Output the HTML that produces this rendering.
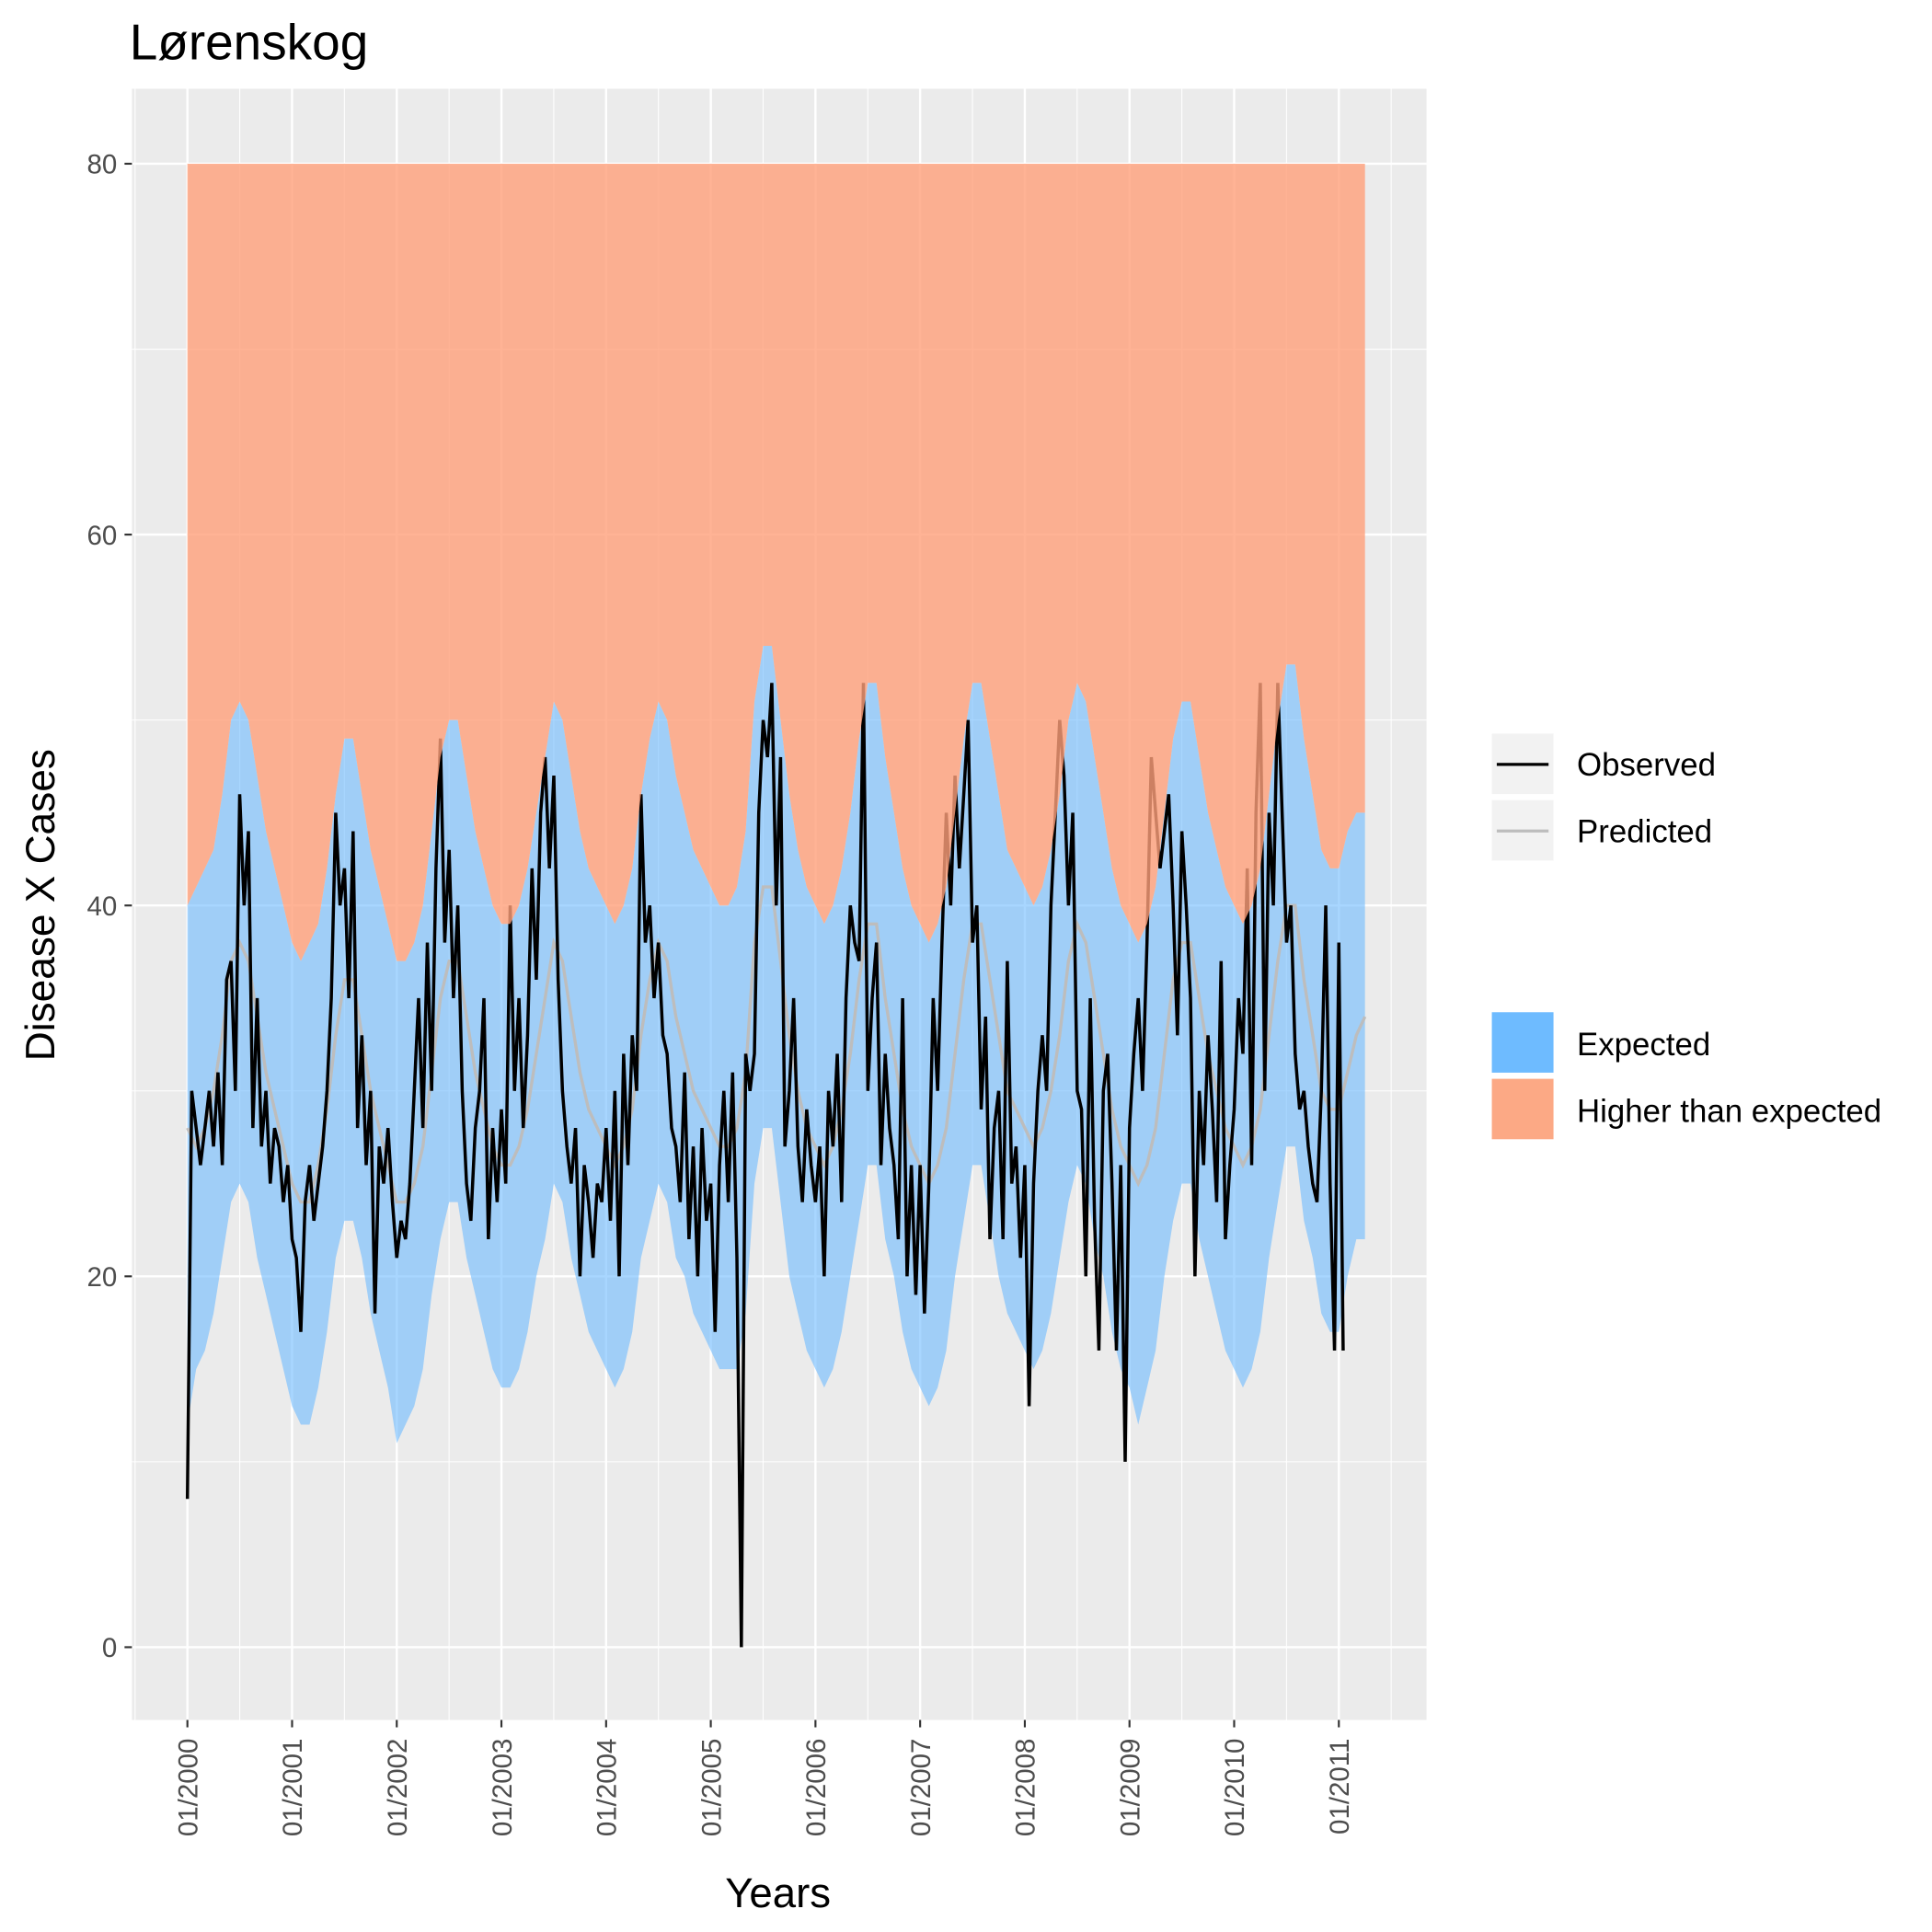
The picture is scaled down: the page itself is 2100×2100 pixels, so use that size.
<!DOCTYPE html>
<html><head><meta charset="utf-8">
<style>
html,body{margin:0;padding:0;background:#fff;}
svg{display:block;font-family:"Liberation Sans",Arial,sans-serif;}
</style></head>
<body>
<svg id="chart" width="2100" height="2100" viewBox="0 0 1567 1567" xmlns="http://www.w3.org/2000/svg">
<text x="105" y="48" font-size="41" fill="#000">Lørenskog</text>
<rect x="107" y="72" width="1050" height="1323" fill="#ebebeb"/>
<g id="grid"></g>
<g id="marks"></g>
<g id="axes"></g>
<text x="631" y="1547" font-size="34" text-anchor="middle" fill="#000">Years</text>
<text transform="translate(44,734) rotate(-90)" font-size="33" text-anchor="middle" fill="#000">Disease X Cases</text>
<g>
<rect x="1210" y="595" width="50" height="49" fill="#f2f2f2"/>
<line x1="1214" y1="620" x2="1256" y2="620" stroke="#000" stroke-width="2.5"/>
<text x="1279" y="629" font-size="26">Observed</text>
<rect x="1210" y="649" width="50" height="49" fill="#f2f2f2"/>
<line x1="1214" y1="674" x2="1256" y2="674" stroke="#bdbdbd" stroke-width="2.5"/>
<text x="1279" y="683" font-size="26">Predicted</text>
</g>
<g>
<rect x="1210" y="821" width="50" height="49" fill="#6ebbff"/>
<text x="1279" y="856" font-size="26">Expected</text>
<rect x="1210" y="875" width="50" height="49" fill="#fca985"/>
<text x="1279" y="910" font-size="26">Higher than expected</text>
</g>
</svg>
<script>
const yTicks = [0, 20, 40, 60, 80];
const xTickLabels = ["01/2000","01/2001","01/2002","01/2003","01/2004","01/2005","01/2006","01/2007","01/2008","01/2009","01/2010","01/2011"];
const topLevel = 80;
// monthly predicted, from Jan 2000
const predicted = [
28,27,28,30,33,37,38,37,34,31,29,27,
25,24,24,26,29,33,36,36,33,30,28,26,
24,24,25,27,31,35,37,37,34,31,29,27,
26,26,27,29,32,35,38,37,34,31,29,28,
27,26,27,29,33,36,38,37,34,32,30,29,
28,27,27,28,31,38,41,41,37,33,30,28,
27,26,27,29,32,36,39,39,35,32,29,27,
26,25,26,28,32,36,39,39,36,33,30,29,
28,27,28,30,33,37,39,38,35,32,29,27,
26,25,26,28,32,36,38,38,35,32,30,28,
27,26,27,29,33,37,40,40,36,33,30,29,
29,31,33,34];
const upperBound = [
40,41,42,43,46,50,51,50,47,44,42,40,
38,37,38,39,42,46,49,49,46,43,41,39,
37,37,38,40,44,48,50,50,47,44,42,40,
39,39,40,42,45,48,51,50,47,44,42,41,
40,39,40,42,46,49,51,50,47,45,43,42,
41,40,40,41,44,51,54,54,50,46,43,41,
40,39,40,42,45,49,52,52,48,45,42,40,
39,38,39,41,45,49,52,52,49,46,43,42,
41,40,41,43,46,50,52,51,48,45,42,40,
39,38,39,41,45,49,51,51,48,45,43,41,
40,39,40,42,46,50,53,53,49,46,43,42,
42,44,45,45];
const lowerBound = [
12,15,16,18,21,24,25,24,21,19,17,15,
13,12,12,14,17,21,23,23,21,18,16,14,
11,12,13,15,19,22,24,24,21,19,17,15,
14,14,15,17,20,22,25,24,21,19,17,16,
15,14,15,17,21,23,25,24,21,20,18,17,
16,15,15,15,18,25,28,28,24,20,18,16,
15,14,15,17,20,23,26,26,22,20,17,15,
14,13,14,16,20,23,26,26,23,20,18,17,
16,15,16,18,21,24,26,25,22,20,17,15,
14,12,14,16,20,23,25,25,22,20,18,16,
15,14,15,17,21,24,27,27,23,21,18,17,
17,20,22,22];
// semi-monthly observed, from Jan 2000
const observed = [
8,30,28,26,28,30,27,31,26,36,37,30,46,40,44,28,35,27,30,25,28,27,24,26,
22,21,17,24,26,23,25,27,30,35,45,40,42,35,44,28,33,26,30,18,27,25,28,24,
21,23,22,25,30,35,28,38,30,42,49,38,43,35,40,30,25,23,28,30,35,22,28,24,
29,25,40,30,35,28,33,42,36,45,48,42,47,36,30,27,25,28,20,26,24,21,25,24,
28,23,30,20,32,26,33,30,46,38,40,35,38,33,32,28,27,24,31,22,27,20,28,23,
25,17,26,30,24,31,21,0,32,30,32,45,50,48,52,40,48,27,30,35,27,24,29,26,
24,27,20,30,27,32,24,35,40,38,37,52,30,35,38,26,32,28,26,22,35,20,26,19,
26,18,25,35,30,38,45,40,47,42,46,50,38,40,29,34,22,28,30,22,37,25,27,21,
26,13,25,30,33,30,40,45,50,47,40,45,30,29,20,35,23,16,30,32,25,16,26,10,
28,32,35,30,38,48,45,42,44,46,40,33,44,40,35,20,30,26,33,29,24,37,22,26,
29,35,32,42,26,45,52,30,45,40,52,45,38,40,32,29,30,27,25,24,30,40,25,16,
38,16];

const NS = "http://www.w3.org/2000/svg";
const X0 = 152, PX_PER_YEAR = 84.9;
function xScale(year){ return X0 + (year - 2000) * PX_PER_YEAR; }
function yScale(v){ return 1336 - v * 15.04; }
function monthX(i){ return xScale(2000 + i / 12); }
function halfX(j){ return xScale(2000 + j / 24); }
function mk(tag, attrs, parent){ const e=document.createElementNS(NS,tag); for(const k in attrs) e.setAttribute(k,attrs[k]); parent.appendChild(e); return e; }

const grid = document.getElementById('grid');
const marks = document.getElementById('marks');
const axes = document.getElementById('axes');

for (let v = 10; v <= 70; v += 20) {
  const y = yScale(v);
  const l = mk('line',{x1:107,x2:1157,y1:y,y2:y,stroke:'#fff','stroke-width':0.8},grid);
  
  
}
yTicks.forEach(v => {
  const y = yScale(v);
  const l = mk('line',{x1:107,x2:1157,y1:y,y2:y,stroke:'#fff','stroke-width':1.8},grid);
  
  
  const t = mk('line',{x1:101,x2:107,y1:y,y2:y,stroke:'#333','stroke-width':1.6},axes);
  
  
  const tx = mk('text',{x:95,y:y+8,'font-size':22,'text-anchor':'end',fill:'#4d4d4d'},axes);
  tx.textContent = v;
  
  
});
for (let k = -1; k < xTickLabels.length; k++) {
  const xm = xScale(2000.5 + k);
  if (xm > 107 && xm < 1157) {
    const l = mk('line',{x1:xm,x2:xm,y1:72,y2:1395,stroke:'#fff','stroke-width':0.8},grid);
    
    
  }
}
xTickLabels.forEach((lab, k) => {
  const x = xScale(2000 + k);
  const l = mk('line',{x1:x,x2:x,y1:72,y2:1395,stroke:'#fff','stroke-width':1.8},grid);
  
  
  const t = mk('line',{x1:x,x2:x,y1:1395,y2:1401,stroke:'#333','stroke-width':1.6},axes);
  
  
  const tx = mk('text',{transform:`translate(${x+8},1410) rotate(-90)`,'font-size':22,'text-anchor':'end',fill:'#4d4d4d'},axes);
  tx.textContent = lab;
  
  
});

let d = '';
upperBound.forEach((v,i)=>{ d += (i?'L':'M') + monthX(i).toFixed(1) + ',' + yScale(v).toFixed(1); });
for (let i = lowerBound.length-1; i >= 0; i--) d += 'L' + monthX(i).toFixed(1) + ',' + yScale(lowerBound[i]).toFixed(1);
const band = mk('path',{d:d+'Z',fill:'#6ebbff','fill-opacity':0.6},marks);



let pd = '';
predicted.forEach((v,i)=>{ pd += (i?'L':'M') + monthX(i).toFixed(1) + ',' + yScale(v).toFixed(1); });
const pl = mk('path',{d:pd,fill:'none',stroke:'#bdbdbd','stroke-width':2.5},marks);



let od = '';
observed.forEach((v,j)=>{ od += (j?'L':'M') + halfX(j).toFixed(1) + ',' + yScale(v).toFixed(1); });
const ol = mk('path',{d:od,fill:'none',stroke:'#000','stroke-width':2.6,'stroke-linejoin':'miter'},marks);



let hd = 'M' + monthX(0).toFixed(1) + ',' + yScale(topLevel).toFixed(1);
hd += 'L' + monthX(upperBound.length-1).toFixed(1) + ',' + yScale(topLevel).toFixed(1);
for (let i = upperBound.length-1; i >= 0; i--) hd += 'L' + monthX(i).toFixed(1) + ',' + yScale(upperBound[i]).toFixed(1);
const ha = mk('path',{d:hd+'Z',fill:'#ffa07a','fill-opacity':0.8},marks);


</script>
</body></html>
